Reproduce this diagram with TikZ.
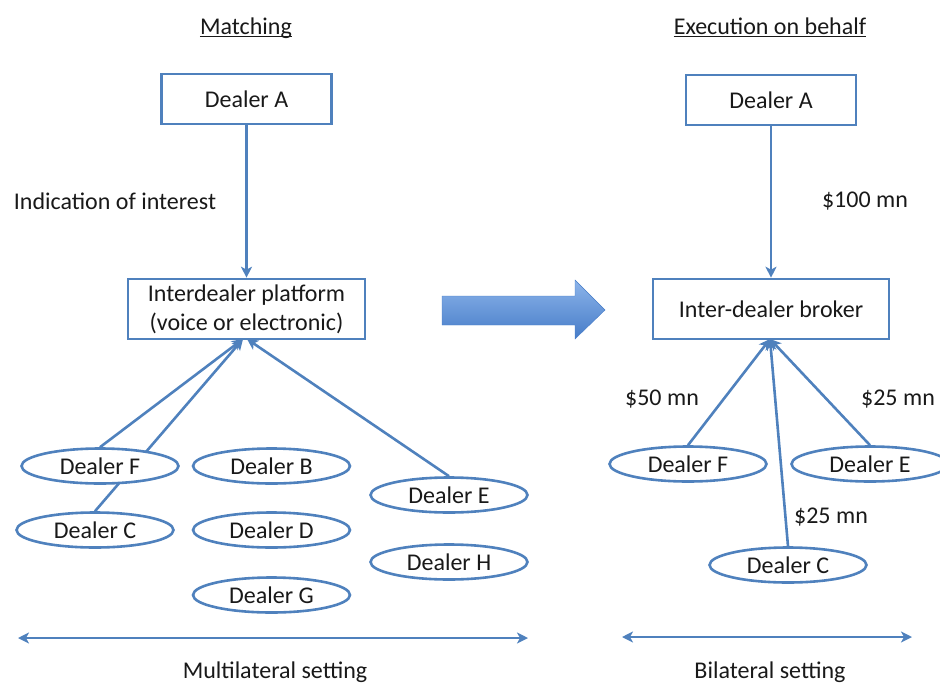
\documentclass[tikz,border=0pt]{standalone}
\usepackage{fontspec}
\setmainfont{Carlito}
\usetikzlibrary{shapes.geometric,arrows.meta,backgrounds}
\definecolor{lineblue}{RGB}{79,129,189}
\definecolor{txt}{RGB}{25,25,25}
\definecolor{arrtop}{RGB}{140,180,234}
\definecolor{arrbot}{RGB}{70,124,200}
\begin{document}
\begin{tikzpicture}[x=1pt,y=-1pt,
  font=\fontsize{24}{29}\selectfont, text=txt,
  box/.style={draw=lineblue, line width=2.6pt, fill=white, minimum width=170pt, minimum height=50pt, inner sep=0pt, align=center},
  dealer/.style={ellipse, draw=lineblue, line width=2.6pt, fill=white, minimum width=157pt, minimum height=35pt, inner sep=0pt},
  conn/.style={draw=lineblue, line width=2.6pt, -{Stealth[length=11pt,width=11pt,inset=3pt]}},
  lbl/.style={inner sep=0pt, anchor=base},
  span/.style={draw=lineblue, line width=2.6pt, {Stealth[length=11pt,width=11pt,inset=3pt]}-{Stealth[length=11pt,width=11pt,inset=3pt]}}]
\useasboundingbox (0,0) rectangle (940,683);

% titles
\node[lbl] (t1) at (246,34) {Matching};
\draw[txt, line width=1.3pt] ([yshift=-2.5pt]t1.base west) -- ([yshift=-2.5pt]t1.base east);
\node[lbl] (t2) at (770,34) {Execution on behalf};
\draw[txt, line width=1.3pt] ([yshift=-2.5pt]t2.base west) -- ([yshift=-2.5pt]t2.base east);

% boxes
\node[box] (aL) at (246.5,99) {Dealer A};
\node[box, minimum width=237pt, minimum height=60pt] (plat) at (246.5,309) {Interdealer platform\\(voice or electronic)};
\node[box] (aR) at (771,100) {Dealer A};
\node[box, minimum width=236pt, minimum height=60pt] (brk) at (771,309) {Inter-dealer broker};

% big arrow
\shade[top color=arrtop, bottom color=arrbot, draw=arrbot, line width=0.4pt]
  (442,296) -- (575,296) -- (575,280) -- (605,310) -- (575,339) -- (575,325) -- (442,325) -- cycle;

% left dealers
\node[dealer] (F) at (100,466) {Dealer F};
\node[dealer] (B) at (271.5,466) {Dealer B};
\node[dealer] (E) at (449,495) {Dealer E};
\node[dealer] (C) at (95,530) {Dealer C};
\node[dealer] (D) at (271.5,530) {Dealer D};
\node[dealer] (H) at (449,562) {Dealer H};
\node[dealer] (G) at (271.5,595) {Dealer G};

% right dealers
\node[dealer] (F2) at (688,464) {Dealer F};
\node[dealer] (E2) at (870,464) {Dealer E};
\node[dealer] (C2) at (788,565) {Dealer C};

% connector end points
\coordinate (pin1) at (243,339);
\coordinate (pin2) at (247,339);
\coordinate (bin) at (770,339);

\draw[conn] (aL.south) -- (aL.south |- plat.north);
\draw[conn] (aR.south) -- (aR.south |- brk.north);

\begin{pgfonlayer}{background}
\draw[conn] (F.north) -- (pin1);
\draw[conn] (C.north) -- (pin1);
\draw[conn] (E.north) -- (pin2);
\draw[conn] (F2.north) -- (bin);
\draw[conn] (C2.north) -- (bin);
\draw[conn] (E2.north) -- (bin);
\end{pgfonlayer}

% bottom spans
\coordinate (s1) at (18,638);
\coordinate (s2) at (528,638);
\coordinate (s3) at (622,637);
\coordinate (s4) at (912,637);
\draw[span] (s1) -- (s2);
\draw[span] (s3) -- (s4);

% labels
\node[lbl] (ioi) at (115,209) {Indication of interest};
\node[lbl] (m100) at (865,207) {\$100 mn};
\node[lbl] (m50) at (662,405) {\$50 mn};
\node[lbl] (m25a) at (898,405) {\$25 mn};
\node[lbl] (m25b) at (831,523) {\$25 mn};
\node[lbl] (ml) at (275,678) {Multilateral setting};
\node[lbl] (bl) at (770,678) {Bilateral setting};
\end{tikzpicture}
\end{document}
